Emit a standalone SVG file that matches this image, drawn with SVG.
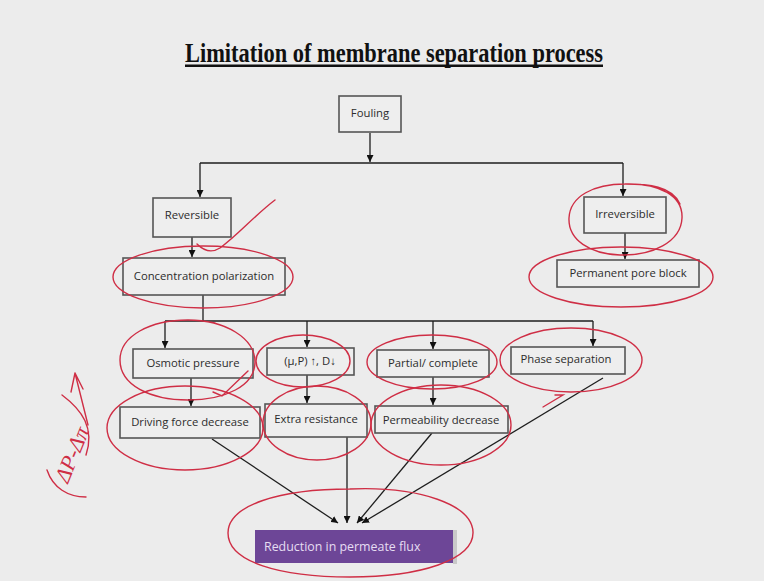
<svg xmlns="http://www.w3.org/2000/svg" width="764" height="581" viewBox="0 0 764 581">
<defs>
<style>
.box{fill:#eeeeee;stroke:#555555;stroke-width:1.6}
.lbl{font-family:"Open Sans","Noto Sans",sans-serif;font-size:11.3px;fill:#2c2c2c;text-anchor:middle}
.ln{fill:none;stroke:#1e1e1e;stroke-width:1.3}
.red{fill:none;stroke:#cf2e45;stroke-width:1.4;stroke-linecap:round}
</style>
<marker id="ah" viewBox="0 0 10 10" refX="10" refY="5" markerWidth="7" markerHeight="7" orient="auto" markerUnits="userSpaceOnUse">
<path d="M0,0 L10,5 L0,10 z" fill="#111"/>
</marker>
</defs>
<rect width="764" height="581" fill="#ececec"/>

<g id="title">
<text x="394" y="62" font-family="Liberation Serif,serif" font-weight="bold" font-size="27" fill="#111" text-anchor="middle" textLength="418" lengthAdjust="spacingAndGlyphs">Limitation of membrane separation process</text>
<rect x="185" y="64.5" width="418" height="2.5" fill="#111"/>
</g>

<g id="connectors">
<path class="ln" d="M370,133 V162" marker-end="url(#ah)"/>
<path class="ln" d="M200,163 H623"/>
<path class="ln" d="M200,163 V197" marker-end="url(#ah)"/>
<path class="ln" d="M623,163 V196" marker-end="url(#ah)"/>
<path class="ln" d="M192,237 V257" marker-end="url(#ah)"/>
<path class="ln" d="M625,233 V259" marker-end="url(#ah)"/>
<path class="ln" d="M203,295 V321"/>
<path class="ln" d="M165,321 H593"/>
<path class="ln" d="M165,321 V348" marker-end="url(#ah)"/>
<path class="ln" d="M307,321 V347" marker-end="url(#ah)"/>
<path class="ln" d="M433,321 V349" marker-end="url(#ah)"/>
<path class="ln" d="M593,321 V346" marker-end="url(#ah)"/>
<path class="ln" d="M191,378 V406" marker-end="url(#ah)"/>
<path class="ln" d="M307,375 V403" marker-end="url(#ah)"/>
<path class="ln" d="M433,377 V405" marker-end="url(#ah)"/>
<path class="ln" d="M212,439 L338,523" marker-end="url(#ah)"/>
<path class="ln" d="M347,437 V523" marker-end="url(#ah)"/>
<path class="ln" d="M432,433 L357,523" marker-end="url(#ah)"/>
<path class="ln" d="M603,378 L362,523" marker-end="url(#ah)"/>
</g>

<g id="fouling"><rect class="box" x="339" y="96" width="62" height="36"/><text class="lbl" x="370" y="117">Fouling</text></g>
<g id="reversible"><rect class="box" x="153" y="198" width="78" height="39"/><text class="lbl" x="192" y="219">Reversible</text></g>
<g id="irreversible"><rect class="box" x="584" y="197" width="82" height="36"/><text class="lbl" x="625" y="218">Irreversible</text></g>
<g id="conc-pol"><rect class="box" x="123" y="258" width="162" height="37"/><text class="lbl" x="204" y="280">Concentration polarization</text></g>
<g id="pore-block"><rect class="box" x="557" y="260" width="142" height="27"/><text class="lbl" x="628" y="277">Permanent pore block</text></g>
<g id="osmotic"><rect class="box" x="133" y="349" width="120" height="29"/><text class="lbl" x="193" y="367">Osmotic pressure</text></g>
<g id="mu-p"><rect class="box" x="267" y="348" width="87" height="27"/><text class="lbl" x="310" y="365">(μ,P) ↑, D↓</text></g>
<g id="partial"><rect class="box" x="377" y="350" width="112" height="27"/><text class="lbl" x="433" y="367">Partial/ complete</text></g>
<g id="phase"><rect class="box" x="511" y="347" width="114" height="27"/><text class="lbl" x="566" y="363">Phase separation</text></g>
<g id="driving"><rect class="box" x="120" y="407" width="140" height="31"/><text class="lbl" x="190" y="426">Driving force decrease</text></g>
<g id="extra"><rect class="box" x="265" y="404" width="102" height="33"/><text class="lbl" x="316" y="423">Extra resistance</text></g>
<g id="permeability"><rect class="box" x="375" y="406" width="133" height="27"/><text class="lbl" x="441" y="424">Permeability decrease</text></g>
<g id="reduction">
<rect x="453" y="530" width="4" height="34" fill="#c9c9c9"/>
<rect x="255" y="530" width="198" height="33" fill="#6d4697"/>
<text x="264" y="551" font-family="Open Sans,Noto Sans,sans-serif" font-size="12.4" fill="#e6ddf2">Reduction in permeate flux</text>
</g>

<g id="annotations">
<path class="red" d="M197,244 C205,252 212,253 220,248 C238,235 255,215 275,200"/>
<ellipse class="red" cx="203" cy="277" rx="90" ry="31"/>
<path class="red" d="M625,184 C660,183 683,196 682,218 C681,242 652,256 620,255 C590,254 568,240 569,218 C570,196 594,184 625,184 C648,184 672,186 680,204"/>
<ellipse class="red" cx="621" cy="277" rx="92" ry="30"/>
<path class="red" d="M188,320 C225,320 255,338 255,362 C255,386 225,400 188,400 C150,400 120,385 120,360 C120,336 150,320 188,320 C200,320 210,322 215,323"/>
<path class="red" d="M213,392 L222,396 L248,371"/>
<ellipse class="red" cx="303" cy="361" rx="47" ry="26"/>
<ellipse class="red" cx="185" cy="428" rx="78" ry="42"/>
<ellipse class="red" cx="317" cy="423" rx="54" ry="37"/>
<ellipse class="red" cx="432" cy="362" rx="65" ry="27"/>
<ellipse class="red" cx="571" cy="360" rx="71" ry="32"/>
<ellipse class="red" cx="441" cy="425" rx="70" ry="40"/>
<path class="red" d="M543,407 L563,395 L555,395"/>
<path class="red" d="M350,489 C420,486 472,505 473,532 C474,560 420,577 350,577 C280,577 228,562 228,533 C228,505 280,489 350,489"/>
<path class="red" d="M88,425 L75,373 M75,373 L71,392 M75,373 L83,389"/>
<text x="0" y="0" transform="translate(68,484) rotate(-68)" font-family="Liberation Serif,serif" font-style="italic" font-size="22" fill="#cf2e45">ΔP-Δπ</text>
<path class="red" d="M47,470 C53,488 68,497 86,497"/>
<path class="red" d="M62,395 C82,410 95,428 86,455"/>
</g>
</svg>
